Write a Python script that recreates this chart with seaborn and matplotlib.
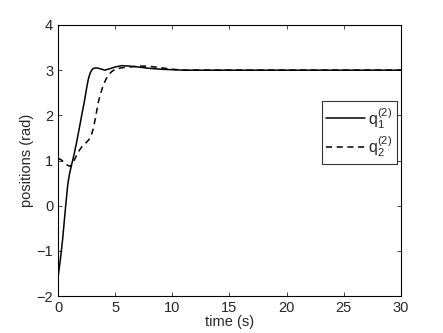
import pandas as pd
import seaborn as sns
import matplotlib.pyplot as plt

# values
t_q1 = [0, 0.2, 0.4, 0.67, 0.85, 1.0, 1.2, 1.4, 1.63, 1.85, 2.07, 2.3, 2.5, 2.65, 2.8, 2.95, 3.09, 3.38,
        3.7, 4.1, 4.5, 5.0, 5.57, 6.2, 7.0, 8.0, 9.0, 10.0, 11.0, 12.0, 15.0, 20.0, 25.0, 30.0]
q1 = [-1.58, -1.2, -0.75, 0.0, 0.46, 0.7, 0.92, 1.13, 1.41, 1.7, 2.0, 2.3, 2.6, 2.8, 2.93, 3.0, 3.04, 3.05,
      3.03, 3.0, 3.03, 3.07, 3.1, 3.09, 3.07, 3.04, 3.02, 3.01, 3.0, 3.0, 3.0, 3.0, 3.0, 3.0]

t_q2 = [0, 0.3, 0.6, 0.8, 1.05, 1.25, 1.5, 1.8, 2.07, 2.4, 2.7, 2.9, 3.1, 3.3, 3.53, 3.75, 3.96,
        4.2, 4.4, 4.7, 5.0, 5.5, 6.2, 7.0, 7.8, 8.5, 10.0, 11.0, 12.0, 15.0, 20.0, 25.0, 30.0]
q2 = [1.05, 1.01, 0.94, 0.9, 0.87, 0.92, 1.05, 1.2, 1.3, 1.38, 1.46, 1.55, 1.72, 1.98, 2.3, 2.5, 2.67,
      2.8, 2.89, 2.97, 3.02, 3.05, 3.07, 3.09, 3.09, 3.07, 3.02, 3.0, 3.0, 3.0, 3.0, 3.0, 3.0]

labels = [r'$\mathrm{q}_1^{(2)}$', r'$\mathrm{q}_2^{(2)}$']

df = pd.concat([
    pd.DataFrame({'t': t_q1, 'q': q1, 'joint': labels[0]}),
    pd.DataFrame({'t': t_q2, 'q': q2, 'joint': labels[1]}),
])

sns.set_style('ticks')
plt.rcParams['font.family'] = ['Liberation Sans', 'DejaVu Sans']
plt.rcParams['mathtext.fontset'] = 'custom'
plt.rcParams['mathtext.rm'] = 'Liberation Sans'
plt.rcParams['mathtext.it'] = 'Liberation Sans'

fig = plt.figure(figsize=(4.43, 3.33), dpi=100)
ax = fig.add_axes([0.131, 0.111, 0.774, 0.814])

sns.lineplot(data=df, x='t', y='q', hue='joint', style='joint',
             palette=['black', 'black'], dashes=[(None, None), (4, 3)],
             linewidth=1.1, sort=True, ax=ax)

ax.set_xlim(0, 30)
ax.set_ylim(-2, 4)
ax.set_xticks(range(0, 31, 5))
ax.set_yticks(range(-2, 5))
ax.set_xlabel('time (s)', fontsize=10.5, labelpad=0)
ax.set_ylabel('positions (rad)', fontsize=10.5, labelpad=2)
ax.tick_params(direction='in', top=True, right=True, labelsize=10.5, length=3, width=0.6)
for s in ax.spines.values():
    s.set_linewidth(0.8)
    s.set_color('black')

leg = ax.legend(loc='upper right', bbox_to_anchor=(0.988, 0.72), borderaxespad=0,
                fancybox=False, edgecolor='black', fontsize=11.5, handlelength=2.4,
                handletextpad=0.2, title=None, labelspacing=0.25, borderpad=0.3)
leg.get_frame().set_linewidth(0.8)

fig.savefig('out.png', dpi=100)
